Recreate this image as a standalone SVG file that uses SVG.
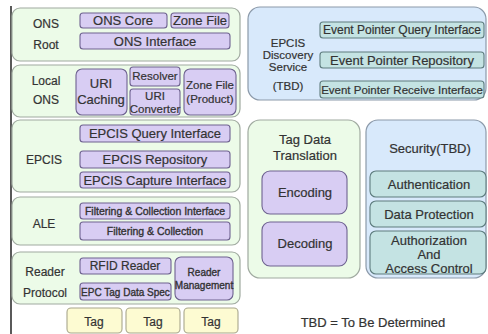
<svg xmlns="http://www.w3.org/2000/svg" width="488" height="334" viewBox="0 0 488 334">
<style>
text{font-family:"Liberation Sans",Arial,sans-serif;fill:#333;text-anchor:middle;font-size:13px;stroke:#333;stroke-width:0.2}
.og{fill:#ecfbe8;stroke:#a0aaa0;stroke-width:1.2}
.ob{fill:#d8e9fb;stroke:#8c9aaa;stroke-width:1.2}
.p{fill:#d8cdf3;stroke:#6e6290;stroke-width:1.1}
.t{fill:#c4e3e3;stroke:#5e7c7e;stroke-width:1.1}
.y{fill:#fdfbd2;stroke:#a8a68c;stroke-width:1.1}
.l{font-size:12px}
.s{font-size:10.5px;stroke-width:0.35}
.x{font-size:10px;stroke-width:0.35}
.m{font-size:11.5px}
.e{font-size:12px}
</style>
<line x1="11" y1="6" x2="11" y2="334" stroke="#000" stroke-width="1.3"/>
<g id="ons-root">
<rect class="og" x="12" y="8" width="228" height="53" rx="8"/>
<text class="l" x="46" y="28">ONS</text><text class="l" x="46" y="49">Root</text>
<rect class="p" x="80" y="13" width="87" height="15" rx="3"/><text x="123" y="25">ONS Core</text>
<rect class="p" x="171" y="13" width="58" height="15" rx="3"/><text x="200" y="25">Zone File</text>
<rect class="p" x="80" y="33" width="150" height="16" rx="3"/><text x="155" y="46">ONS Interface</text>
</g>
<g id="local-ons">
<rect class="og" x="12" y="65" width="228" height="52" rx="8"/>
<text class="l" x="46" y="85">Local</text><text class="l" x="46" y="104">ONS</text>
<rect class="p" x="76" y="69" width="51" height="46" rx="6"/><text x="101" y="88">URI</text><text x="101" y="104">Caching</text>
<rect class="p" x="130" y="67" width="50" height="19" rx="3"/><text class="m" x="155" y="80">Resolver</text>
<rect class="p" x="130" y="89" width="50" height="26" rx="3"/><text class="m" x="155" y="100">URI</text><text class="m" x="155" y="113">Converter</text>
<rect class="p" x="184" y="69" width="52" height="46" rx="6"/><text class="m" x="210" y="89">Zone File</text><text class="m" x="210" y="103">(Product)</text>
</g>
<g id="epcis">
<rect class="og" x="12" y="120" width="228" height="72" rx="8"/>
<text class="l" x="44" y="164">EPCIS</text>
<rect class="p" x="80" y="125" width="150" height="17" rx="3"/><text x="155" y="138">EPCIS Query Interface</text>
<rect class="p" x="80" y="151" width="150" height="17" rx="3"/><text x="155" y="164">EPCIS Repository</text>
<rect class="p" x="80" y="172" width="150" height="16" rx="3"/><text x="155" y="185">EPCIS Capture Interface</text>
</g>
<g id="ale">
<rect class="og" x="12" y="197" width="228" height="48" rx="8"/>
<text class="l" x="44" y="228">ALE</text>
<rect class="p" x="80" y="203" width="150" height="16" rx="3"/><text class="s" x="155" y="215">Filtering &amp; Collection Interface</text>
<rect class="p" x="80" y="222" width="150" height="18" rx="3"/><text class="s" x="155" y="235">Filtering &amp; Collection</text>
</g>
<g id="reader-protocol">
<rect class="og" x="12" y="252" width="228" height="52" rx="8"/>
<text class="l" x="45" y="276">Reader</text><text class="l" x="45" y="297">Protocol</text>
<rect class="p" x="80" y="258" width="91" height="16" rx="3"/><text class="e" x="125" y="270">RFID Reader</text>
<rect class="p" x="80" y="283" width="91" height="17" rx="3"/><text class="x" x="125.5" y="296">EPC Tag Data Spec</text>
<rect class="p" x="175" y="257" width="58" height="43" rx="6"/><text class="x" x="204" y="276">Reader</text><text class="x" x="204" y="289">Management</text>
</g>
<g id="tag1"><rect class="y" x="67" y="308" width="55" height="25" rx="4"/><text class="e" x="94" y="326">Tag</text></g>
<g id="tag2"><rect class="y" x="126" y="308" width="54" height="25" rx="4"/><text class="e" x="153" y="326">Tag</text></g>
<g id="tag3"><rect class="y" x="184" y="308" width="54" height="25" rx="4"/><text class="e" x="211" y="326">Tag</text></g>
<g id="discovery">
<rect class="ob" x="248" y="7" width="238" height="93" rx="12"/>
<text class="m" x="288" y="47">EPCIS</text><text class="m" x="288" y="59">Discovery</text><text class="m" x="288" y="71">Service</text><text class="m" x="288" y="90">(TBD)</text>
<rect class="t" x="320" y="22" width="164" height="16" rx="3"/><text class="e" x="402" y="34">Event Pointer Query Interface</text>
<rect class="t" x="320" y="52" width="164" height="16" rx="3"/><text x="402" y="65">Event Pointer Repository</text>
<rect class="t" x="320" y="81" width="164" height="17" rx="3"/><text class="m" x="402" y="94">Event Pointer Receive Interface</text>
</g>
<g id="tag-data-translation">
<rect class="og" x="248" y="120" width="112" height="158" rx="12"/>
<text x="305" y="144">Tag Data</text><text x="305" y="160">Translation</text>
<rect class="p" x="262" y="171" width="85" height="43" rx="8"/><text x="305" y="197">Encoding</text>
<rect class="p" x="262" y="222" width="85" height="44" rx="8"/><text x="305" y="248">Decoding</text>
</g>
<g id="security">
<rect class="ob" x="366" y="120" width="120" height="158" rx="12"/>
<text x="430" y="153">Security(TBD)</text>
<rect class="t" x="370" y="171" width="116" height="26" rx="6"/><text x="429" y="189">Authentication</text>
<rect class="t" x="370" y="201" width="116" height="26" rx="6"/><text x="429" y="219">Data Protection</text>
<rect class="t" x="370" y="231" width="116" height="43" rx="6"/><text x="429" y="245">Authorization</text><text x="429" y="259">And</text><text x="429" y="273">Access Control</text>
</g>
<text x="373" y="327">TBD = To Be Determined</text>
<g id="connectors"></g>
</svg>
